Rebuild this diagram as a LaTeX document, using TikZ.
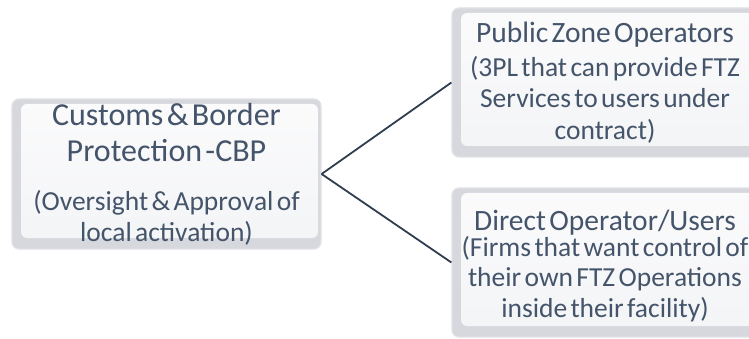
\documentclass[tikz,border=0pt]{standalone}
\usepackage{fontspec}
\setmainfont{Carlito}
\usetikzlibrary{positioning}
\definecolor{txtslate}{HTML}{44546A}
\definecolor{linkslate}{HTML}{2F3D4F}
\definecolor{tileedge}{HTML}{E0E2E6}
\definecolor{tileshade}{HTML}{D6D8DE}
\definecolor{tiletop}{HTML}{FBFBFC}
\definecolor{tilebot}{HTML}{F3F4F6}
\newcommand{\headfont}[1]{\fontsize{#1}{36}\selectfont}
\newcommand{\descfont}[1]{\fontsize{27.5}{#1}\selectfont}
\tikzset{
    tile/.style = {rectangle, rounded corners=7pt, draw=tileedge, line width=1.2pt, fill=tileshade,
        inner xsep=0pt, inner ysep=0pt, align=center, text=txtslate,
        path picture={\shade[top color=tiletop, bottom color=tilebot, rounded corners=6pt]
            ([shift={(9pt,-5pt)}]path picture bounding box.north west) rectangle
            ([shift={(-3pt,11pt)}]path picture bounding box.south east);}},
    tileleft/.style = {tile, minimum width=309pt, minimum height=150pt, text width=305pt},
    tileright/.style = {tile, minimum width=306pt, minimum height=149pt, text width=304pt},
    link/.style = {-, line width=1.8pt, linkslate}
}

\begin{document}
\begin{tikzpicture}[x=1pt,y=-1pt]
\useasboundingbox (0,0) rectangle (749,339);

\node[tileleft] at (166.5,174) (cbp) {{\headfont{32}\rule{0pt}{20pt}Customs \& Border\\Protection -CBP\par}\vspace{18pt}%
    {\descfont{31} (Oversight \& Approval of\\local activation)\par}};
\node[tileright] at (605,82.5) (pzo) {{\headfont{29.5}\rule{0pt}{18pt}Public Zone Operators\par}\vspace{2pt}%
    {\descfont{31.5} (3PL that can provide FTZ\\Services to users under\\contract)\par}};
\node[tileright] at (605,262.5) (dou) {{\headfont{29.5}\rule{0pt}{27pt}Direct Operator/Users\par}\vspace{-5pt}%
    {\descfont{30.5} (Firms that want control of\\their own FTZ Operations\\inside their facility)\par}};

\draw[link] (cbp.east) -- (pzo.west);
\draw[link] (cbp.east) -- (dou.west);

\end{tikzpicture}
\end{document}
